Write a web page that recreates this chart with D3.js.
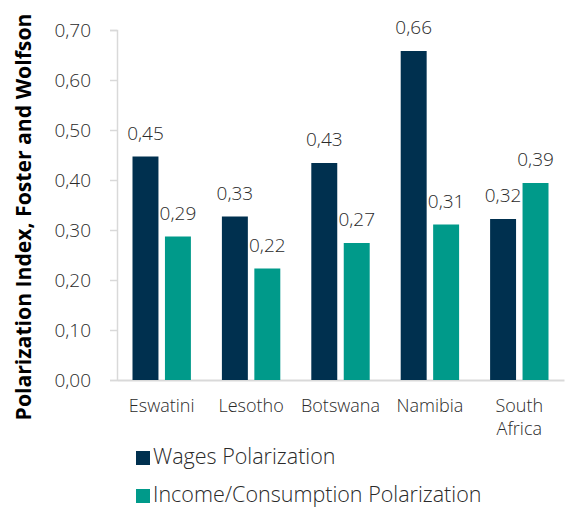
<!DOCTYPE html>
<html>
<head>
<meta charset="utf-8">
<script src="https://cdn.jsdelivr.net/npm/d3@7"></script>
<style>
  html, body { margin: 0; padding: 0; background: #ffffff; }
  svg { display: block; }
  svg text { font-family: "Open Sans", "Noto Sans", sans-serif; }
</style>
</head>
<body>
<svg id="chart" width="565" height="507"></svg>
<script>
// Countries on the x axis (line breaks split with "\n")
const categories = ["Eswatini", "Lesotho", "Botswana", "Namibia", "South\nAfrica"];
const seriesNames = ["Wages Polarization", "Income/Consumption Polarization"];
// Polarization index (Foster and Wolfson)
const wagesValues = [0.447, 0.327, 0.434, 0.658, 0.322];
const incomeValues = [0.287, 0.223, 0.274, 0.311, 0.394];
const yTicks = [0, 0.1, 0.2, 0.3, 0.4, 0.5, 0.6, 0.7];
const colors = ["#00304f", "#009a8a"];

const svg = d3.select("#chart");
const margin = { left: 117, right: 1, top: 30, bottom: 127 };
const W = 565, H = 507;
const textColor = "#2a2a2a";

const locale = d3.formatLocale({ decimal: ",", thousands: ".", grouping: [3], currency: ["", ""] });
const fmt = locale.format(".2f");

const y = d3.scaleLinear().domain([0, 0.7]).range([H - margin.bottom, margin.top]);
const x0 = d3.scaleBand().domain(categories).range([margin.left, W - margin.right]).padding(0);
const x1 = d3.scaleBand().domain(seriesNames).range([15.5, x0.bandwidth() - 15.5]).paddingInner(0.2);

const rows = categories.map((c, i) => ({ cat: c, vals: [wagesValues[i], incomeValues[i]] }));

// Y axis
const yAxis = svg.append("g")
  .attr("transform", `translate(${margin.left},0)`)
  .call(d3.axisLeft(y).tickValues(yTicks).tickFormat(fmt).tickSize(7).tickPadding(19));
yAxis.attr("font-family", null);
yAxis.select(".domain").attr("stroke", "#d9d9d9").attr("stroke-width", 1.5);
yAxis.selectAll(".tick line").attr("stroke", "#d9d9d9").attr("stroke-width", 1.5);
yAxis.selectAll(".tick text")
  .attr("fill", textColor)
  .style("font-size", "19px")
  .style("font-weight", 300)
  .attr("dy", "0.36em");

// X axis
const xAxis = svg.append("g")
  .attr("transform", `translate(0,${y(0)})`)
  .call(d3.axisBottom(x0).tickSize(0).tickFormat(""));
xAxis.attr("font-family", null);
xAxis.select(".domain").attr("stroke", "#d9d9d9").attr("stroke-width", 2);
xAxis.selectAll(".tick").each(function(d) {
  const t = d3.select(this).append("text")
    .attr("fill", textColor)
    .attr("text-anchor", "middle")
    .style("font-size", "18px")
    .style("font-weight", 300);
  d.split("\n").forEach((line, j) => {
    t.append("tspan").attr("x", 0).attr("y", 32 + j * 23).text(line);
  });
});

// Bars
const groups = svg.append("g").selectAll("g")
  .data(rows).join("g")
  .attr("transform", d => `translate(${x0(d.cat)},0)`);

groups.selectAll("rect")
  .data(d => d.vals.map((v, k) => ({ key: seriesNames[k], v, k })))
  .join("rect")
  .attr("x", d => x1(d.key))
  .attr("width", x1.bandwidth())
  .attr("y", d => y(d.v))
  .attr("height", d => y(0) - y(d.v))
  .attr("fill", d => colors[d.k]);

groups.selectAll("text.val")
  .data(d => d.vals.map((v, k) => ({ key: seriesNames[k], v, k })))
  .join("text")
  .attr("class", "val")
  .attr("x", d => x1(d.key) + x1.bandwidth() / 2)
  .attr("y", d => y(d.v) - 17)
  .attr("text-anchor", "middle")
  .attr("fill", textColor)
  .style("font-size", "19px")
  .style("font-weight", 300)
  .text(d => fmt(d.v));

// Y axis title, sized to span the full plot height
const title = svg.append("text")
  .attr("transform", `translate(31,217) rotate(-90)`)
  .attr("text-anchor", "middle")
  .attr("fill", "#000000")
  .style("font-size", "20px")
  .style("font-weight", 700)
  .text("Polarization Index, Foster and Wolfson");
const len = title.node().getComputedTextLength();
title.style("font-size", (20 * 407 / len) + "px");

// Legend
const legend = svg.append("g").selectAll("g")
  .data(seriesNames).join("g")
  .attr("transform", (d, i) => `translate(136,${451 + i * 38})`);
legend.append("rect")
  .attr("width", 14).attr("height", 14)
  .attr("fill", (d, i) => colors[i]);
legend.append("text")
  .attr("x", 17).attr("y", 13)
  .attr("fill", textColor)
  .style("font-size", "21.5px")
  .style("font-weight", 300)
  .text(d => d);
</script>
</body>
</html>
